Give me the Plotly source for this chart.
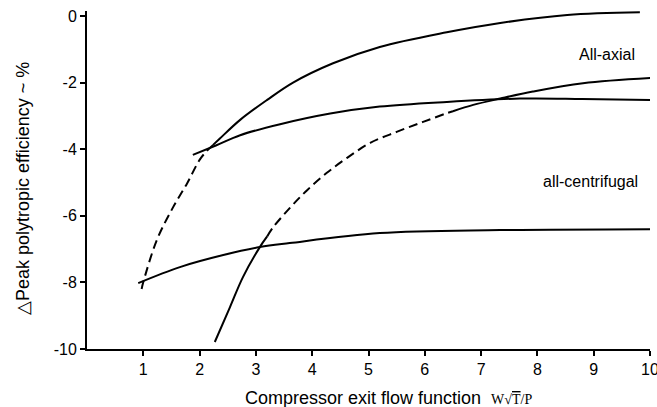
import plotly.graph_objects as go

# --- data ---
# All-axial upper curve: dashed lower part, solid upper part
axial_dash_x = [0.97, 1.0, 1.24, 1.53, 1.78, 2.0, 2.12, 2.24]
axial_dash_y = [-8.2, -7.99, -6.73, -5.74, -5.02, -4.32, -4.07, -3.87]
axial_solid_x = [2.24, 2.36, 2.72, 3.2, 3.66, 4.37, 5.2, 6.39, 7.34, 8.53, 9.82]
axial_solid_y = [-3.87, -3.68, -3.12, -2.52, -2.0, -1.42, -0.93, -0.49, -0.21, 0.03, 0.11]

# Second solid curve (upper middle)
mid_x = [1.88, 2.3, 2.72, 3.43, 4.32, 5.2, 6.39, 7.69, 8.8, 10.0]
mid_y = [-4.17, -3.88, -3.58, -3.25, -2.93, -2.72, -2.58, -2.48, -2.49, -2.52]

# Curve rising from bottom: solid, dashed, solid
rise_solid1_x = [2.27, 2.54, 2.77, 3.07, 3.2]
rise_solid1_y = [-9.79, -8.74, -7.84, -6.94, -6.62]
rise_dash_x = [3.2, 3.3, 3.6, 3.91, 4.26, 4.62, 5.03, 5.5, 5.97, 6.39, 6.5]
rise_dash_y = [-6.62, -6.36, -5.77, -5.23, -4.71, -4.26, -3.81, -3.48, -3.18, -2.92, -2.86]
rise_solid2_x = [6.5, 6.86, 7.34, 7.92, 8.81, 10.05]
rise_solid2_y = [-2.86, -2.67, -2.48, -2.27, -2.02, -1.86]

# Bottom (all-centrifugal) curve
cent_x = [0.91, 1.65, 2.42, 3.07, 3.6, 5.2, 7.34, 10.05]
cent_y = [-8.02, -7.54, -7.18, -6.94, -6.82, -6.52, -6.43, -6.40]

x_ticks = [1, 2, 3, 4, 5, 6, 7, 8, 9, 10]
y_ticks = [0, -2, -4, -6, -8, -10]

labels = [("All-axial", 9.24, -1.17, 16), ("all-centrifugal", 8.95, -4.98, 16)]

FONT = "Liberation Sans, Arial, Helvetica, sans-serif"
LW = 2

fig = go.Figure()

def add(x, y, dash="solid"):
    fig.add_trace(go.Scatter(
        x=x, y=y, mode="lines", line_shape="spline",
        line=dict(color="black", width=LW, dash=dash, smoothing=1.0),
        showlegend=False, hoverinfo="skip"))

add(axial_dash_x, axial_dash_y, "9px,5px")
add(axial_solid_x, axial_solid_y)
add(mid_x, mid_y)
add(rise_solid1_x, rise_solid1_y)
add(rise_dash_x, rise_dash_y, "9px,5px")
add(rise_solid2_x, rise_solid2_y)
add(cent_x, cent_y)

annotations = []
for text, lx, ly, fs in labels:
    annotations.append(dict(x=lx, y=ly, xref="x", yref="y", text=text,
                            showarrow=False, font=dict(family=FONT, size=fs, color="black")))

annotations.append(dict(
    x=5.35, y=0, xref="x", yref="paper", yshift=-49, yanchor="middle",
    text="Compressor exit flow function  <span style='font-family:Liberation Serif, serif; font-size:14px'>W√<span style='text-decoration:overline'>T</span>/P</span>",
    showarrow=False, font=dict(family=FONT, size=18, color="black")))
annotations.append(dict(
    x=0, y=0.5, xref="paper", yref="paper", xshift=-64, yshift=-9, xanchor="center",
    text="△Peak polytropic efficiency ~ %", textangle=-90,
    showarrow=False, font=dict(family=FONT, size=18, color="black")))

fig.update_layout(
    width=657, height=407,
    margin=dict(l=87, r=7, t=11, b=58),
    paper_bgcolor="white", plot_bgcolor="white",
    annotations=annotations,
    font=dict(family=FONT, size=16, color="black"),
)
fig.update_xaxes(range=[0, 10], tickvals=x_ticks, ticktext=[str(v) for v in x_ticks],
                 showgrid=False, zeroline=False, showline=True, linecolor="black", linewidth=2,
                 ticks="outside", ticklen=5, tickwidth=1.5, tickcolor="black",
                 ticklabeloverflow="allow", automargin=False,
                 tickfont=dict(family=FONT, size=16, color="black"))
fig.update_yaxes(range=[-10, 0.15], tickvals=y_ticks, ticktext=[str(v) for v in y_ticks],
                 showgrid=False, zeroline=False, showline=True, linecolor="black", linewidth=2,
                 ticks="outside", ticklen=5, tickwidth=1.5, tickcolor="black",
                 automargin=False,
                 tickfont=dict(family=FONT, size=16, color="black"))

fig.write_html("out.html", config={"displayModeBar": False},
               post_script="document.body.style.margin='0';")
